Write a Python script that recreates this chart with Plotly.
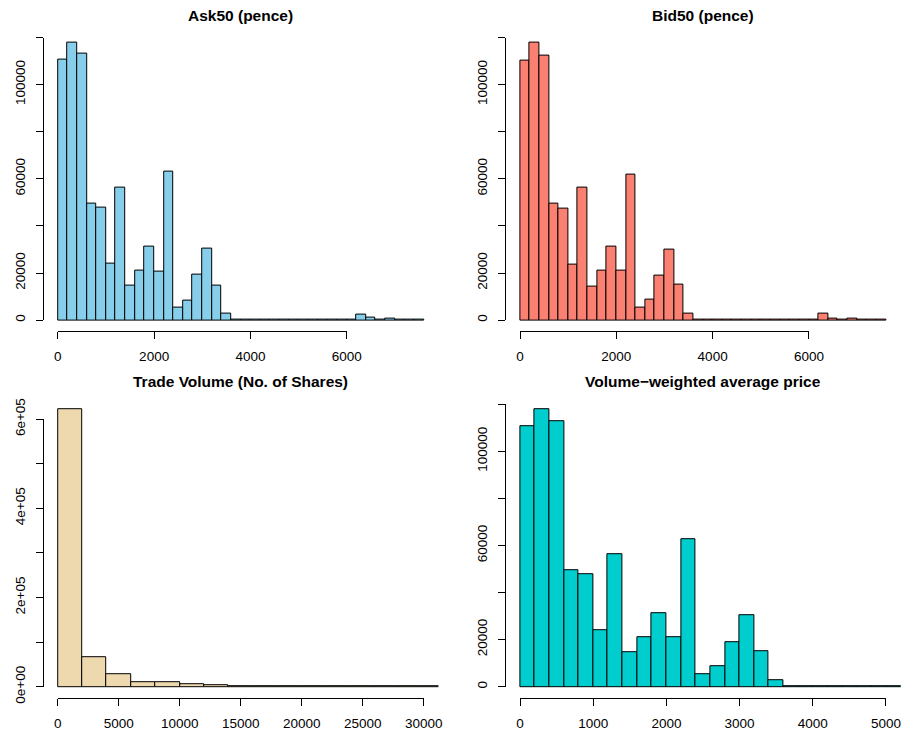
import plotly.graph_objects as go

W, H = 901, 733

# ---------------- data ----------------
price_breaks = list(range(0, 7601, 200))  # 200-pence bins, 0..7600

ask_counts = [110800, 117800, 113000, 49600, 47900, 24100, 56100, 14700, 21200, 31300,
              20700, 62900, 5100, 8100, 19300, 30500, 14700, 2800, 300, 40,
              30, 30, 20, 20, 20, 20, 20, 20, 20, 30,
              250, 2400, 1000, 250, 850, 200, 150, 120]

bid_counts = [110200, 117800, 112200, 49600, 47500, 23700, 56400, 14400, 21100, 31200,
              21100, 62000, 5200, 8500, 19000, 30000, 14900, 2800, 300, 40,
              30, 30, 20, 20, 20, 20, 20, 20, 20, 30,
              250, 2700, 700, 250, 700, 200, 150, 120]

vwap_counts = [110500, 117800, 112600, 49600, 47700, 23900, 56400, 14600, 21200, 31200,
               21000, 62600, 5200, 8500, 19100, 30300, 15000, 2800, 280, 40,
               30, 30, 20, 20, 20, 20, 20, 20, 20, 30,
               250, 2500, 900, 250, 800, 200, 150, 120]

volume_breaks = list(range(0, 32001, 2000))
volume_counts = [622000, 66500, 27300, 11200, 9000, 5200, 3700, 2200,
                 1500, 1200, 900, 700, 500, 400, 300, 250]

titles = ["Ask50 (pence)", "Bid50 (pence)", "Trade Volume (No. of Shares)",
          "Volume\u2212weighted average price"]

price_xticks = [0, 2000, 4000, 6000]
volume_xticks = [0, 5000, 10000, 15000, 20000, 25000, 30000]
vwap_xticks = [0, 1000, 2000, 3000, 4000, 5000]

count_yticks = [0, 20000, 40000, 60000, 80000, 100000, 120000]
count_ylabels = ["0", "20000", "", "60000", "", "100000", ""]
volume_yticks = [0, 100000, 200000, 300000, 400000, 500000, 600000]
volume_ylabels = ["0e+00", "", "2e+05", "", "4e+05", "", "6e+05"]

# ---------------- layout constants (pixels) ----------------
COLS = [(43.2, 438.4), (505.4, 900.6)]
ROWS = [(31.6, 331.2), (398.2, 697.8)]
FONT = "Liberation Sans, Arial, Helvetica, sans-serif"

panels = [
    dict(breaks=price_breaks, counts=ask_counts, color="#87CEEB", col=0, row=0,
         xlim=(0, 7600), xticks=price_xticks, yticks=count_yticks, ylabels=count_ylabels),
    dict(breaks=price_breaks, counts=bid_counts, color="#FA8072", col=1, row=0,
         xlim=(0, 7600), xticks=price_xticks, yticks=count_yticks, ylabels=count_ylabels),
    dict(breaks=volume_breaks, counts=volume_counts, color="#EED8AE", col=0, row=1,
         xlim=(0, 30000), xticks=volume_xticks, yticks=volume_yticks, ylabels=volume_ylabels),
    dict(breaks=price_breaks, counts=vwap_counts, color="#00CDCD", col=1, row=1,
         xlim=(0, 5000), xticks=vwap_xticks, yticks=count_yticks, ylabels=count_ylabels),
]

fig = go.Figure()
layout = dict(width=W, height=H, margin=dict(l=0, r=0, t=0, b=0, pad=0, autoexpand=False),
              paper_bgcolor="white", plot_bgcolor="rgba(0,0,0,0)",
              showlegend=False, annotations=[], bargap=0)


def fx(p):
    return p / W


def fy(p):
    return 1 - p / H


for i, p in enumerate(panels, start=1):
    L, R = COLS[p["col"]]
    T, B = ROWS[p["row"]]
    x0, x1 = p["xlim"]
    dx = x1 - x0
    xr = [x0 - 0.04 * dx, x1 + 0.04 * dx]
    ymax = max(p["counts"])
    yr = [-0.04 * ymax, 1.04 * ymax]

    br = p["breaks"]
    centers = [(br[k] + br[k + 1]) / 2 for k in range(len(p["counts"]))]
    widths = [br[k + 1] - br[k] for k in range(len(p["counts"]))]

    fig.add_trace(go.Bar(x=centers, y=p["counts"], width=widths,
                         marker=dict(color=p["color"], line=dict(color="black", width=1)),
                         xaxis=f"x{i}", yaxis=f"y{i}", hoverinfo="x+y"))

    layout[f"xaxis{i}"] = dict(domain=[fx(L), fx(R)], range=xr, anchor=f"y{i}", visible=False,
                               automargin=False)
    layout[f"yaxis{i}"] = dict(domain=[fy(B), fy(T)], range=yr, anchor=f"x{i}", visible=False,
                               automargin=False)

    # R-style detached axes spanning only the tick range
    def xpix(v):
        return L + (v - xr[0]) / (xr[1] - xr[0]) * (R - L)

    def ypix(v):
        return B - (v - yr[0]) / (yr[1] - yr[0]) * (B - T)

    xt = p["xticks"]
    yt = p["yticks"]
    j = i + 4
    fig.add_trace(go.Scatter(x=[None], y=[None], mode="markers", xaxis=f"x{j}", yaxis=f"y{j}",
                             hoverinfo="skip", showlegend=False))
    common = dict(showline=True, linecolor="black", linewidth=1, ticks="outside", ticklen=7,
                  tickwidth=1, tickcolor="black", showgrid=False, zeroline=False,
                  tickfont=dict(family=FONT, size=13.5, color="black"), ticklabelstandoff=6,
                  fixedrange=True, automargin=False)
    layout[f"xaxis{j}"] = dict(domain=[fx(xpix(xt[0])), fx(xpix(xt[-1]))], range=[xt[0], xt[-1]],
                               anchor="free", position=fy(B), side="bottom",
                               tickvals=xt, ticktext=[str(v) for v in xt], **common)
    layout[f"yaxis{j}"] = dict(domain=[fy(ypix(yt[0])), fy(ypix(yt[-1]))], range=[yt[0], yt[-1]],
                               anchor="free", position=fx(L), side="left", tickangle=-90,
                               tickvals=yt, ticktext=p["ylabels"], **common)

    layout["annotations"].append(dict(
        text=f"<b>{titles[i - 1]}</b>", x=fx((L + R) / 2), y=fy(T - 16.5),
        xref="paper", yref="paper", xanchor="center", yanchor="middle", showarrow=False,
        font=dict(family=FONT, size=15.5, color="black")))

fig.update_layout(**layout)
fig.write_html("out.html")
